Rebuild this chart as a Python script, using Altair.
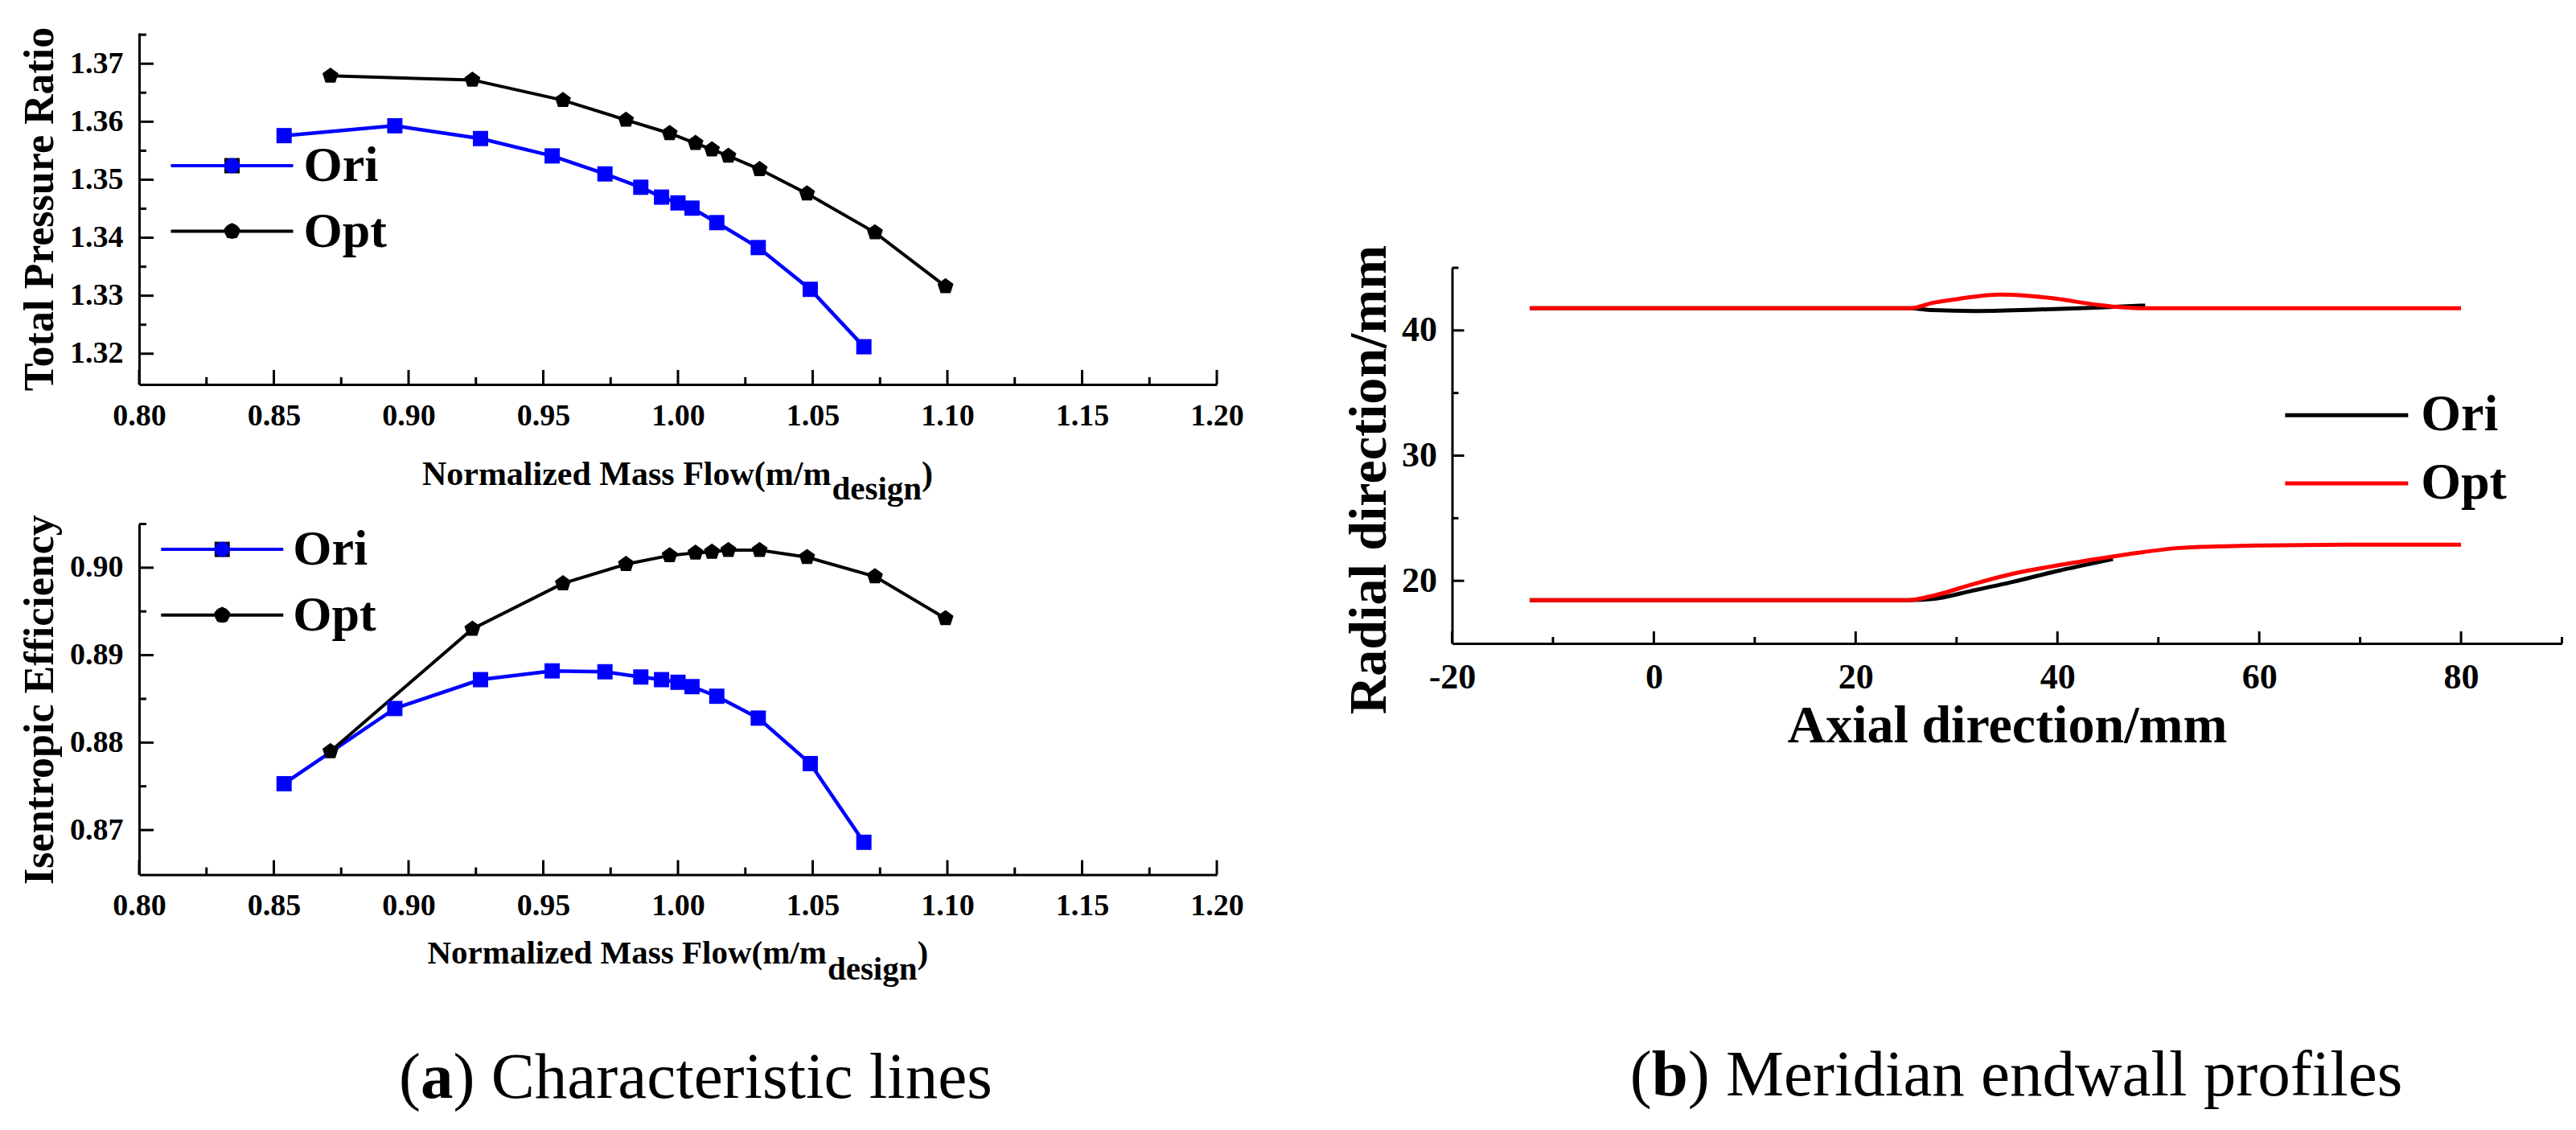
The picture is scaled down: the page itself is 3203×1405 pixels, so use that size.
import altair as alt
import pandas as pd

FONT = "Liberation Serif"
SERIES = ["Ori", "Opt"]
CHAR_COLORS = ["#0000FF", "#000000"]
PROF_COLORS = ["#000000", "#FF0000"]
PENTAGON = "M0,-1.1L1.046,-0.34L0.647,0.89L-0.647,0.89L-1.046,-0.34Z"
LEGEND_LINE = "M-4,0L4,0"

# ---------------- (a) characteristic lines ----------------
ORI_FLOW = [0.8538, 0.8949, 0.9267, 0.9533, 0.9729, 0.9862, 0.9939, 1.0000, 1.0052, 1.0144, 1.0298, 1.0491, 1.0690]
ORI_PR = [1.3576, 1.3593, 1.3571, 1.3541, 1.3510, 1.3487, 1.3470, 1.3460, 1.3451, 1.3426, 1.3383, 1.3311, 1.3212]
ORI_EFF = [0.8753, 0.8839, 0.8872, 0.8882, 0.8881, 0.8875, 0.8872, 0.8869, 0.8864, 0.8853, 0.8828, 0.8776, 0.8686]
OPT_FLOW = [0.8710, 0.9237, 0.9573, 0.9807, 0.9969, 1.0065, 1.0126, 1.0187, 1.0303, 1.0479, 1.0731, 1.0993]
OPT_PR = [1.3679, 1.3672, 1.3637, 1.3603, 1.3580, 1.3563, 1.3552, 1.3541, 1.3518, 1.3476, 1.3409, 1.3316]
OPT_EFF = [0.8790, 0.8930, 0.8982, 0.9004, 0.9014, 0.9017, 0.9018, 0.9020, 0.9020, 0.9012, 0.8990, 0.8942]

# ---------------- (b) meridian endwall profiles ----------------
ORI_SHROUD_X = [-12.3, 25.4, 27.6, 31.7, 37.8, 43.9, 48.7]
ORI_SHROUD_R = [41.77, 41.77, 41.62, 41.55, 41.66, 41.82, 42.00]
OPT_SHROUD_X = [-12.3, 25.4, 27.6, 30.0, 32.0, 34.3, 36.5, 39.8, 43.9, 45.9, 48.0, 80.0]
OPT_SHROUD_R = [41.77, 41.77, 42.20, 42.50, 42.72, 42.86, 42.80, 42.54, 42.05, 41.88, 41.78, 41.77]
ORI_HUB_X = [-12.3, 25.2, 27.6, 31.5, 35.7, 39.8, 45.5]
ORI_HUB_R = [18.46, 18.46, 18.55, 19.20, 19.94, 20.75, 21.74]
OPT_HUB_X = [-12.3, 25.2, 27.6, 31.5, 35.7, 39.8, 43.9, 47.9, 52.0, 56.0, 60.1, 68.3, 80.0]
OPT_HUB_R = [18.46, 18.46, 18.79, 19.70, 20.59, 21.20, 21.74, 22.23, 22.62, 22.75, 22.82, 22.88, 22.88]

# ---------------- ticks ----------------
X_MAJOR = [0.80, 0.85, 0.90, 0.95, 1.00, 1.05, 1.10, 1.15, 1.20]
X_MINOR = [0.825, 0.875, 0.925, 0.975, 1.025, 1.075, 1.125, 1.175]
PR_MAJOR = [1.32, 1.33, 1.34, 1.35, 1.36, 1.37]
PR_MINOR = [1.325, 1.335, 1.345, 1.355, 1.365, 1.375]
EFF_MAJOR = [0.87, 0.88, 0.89, 0.90]
EFF_MINOR = [0.875, 0.885, 0.895, 0.905]
AX_MAJOR = [-20, 0, 20, 40, 60, 80]
AX_MINOR = [-10, 10, 30, 50, 70, 90]
RAD_MAJOR = [20, 30, 40]
RAD_MINOR = [25, 35, 45]

char = pd.concat([
    pd.DataFrame({"series": "Ori", "flow": ORI_FLOW, "pr": ORI_PR, "eff": ORI_EFF}),
    pd.DataFrame({"series": "Opt", "flow": OPT_FLOW, "pr": OPT_PR, "eff": OPT_EFF}),
], ignore_index=True)
char["marker"] = char["series"]

prof = pd.concat([
    pd.DataFrame({"series": "Ori", "part": "shroud", "x": ORI_SHROUD_X, "r": ORI_SHROUD_R}),
    pd.DataFrame({"series": "Ori", "part": "hub", "x": ORI_HUB_X, "r": ORI_HUB_R}),
    pd.DataFrame({"series": "Opt", "part": "shroud", "x": OPT_SHROUD_X, "r": OPT_SHROUD_R}),
    pd.DataFrame({"series": "Opt", "part": "hub", "x": OPT_HUB_X, "r": OPT_HUB_R}),
], ignore_index=True)

W_L, H_TOP, H_BOT = 1340, 437, 436
W_R, H_R = 1380, 467


def text_layer(label, x, y, size, weight="bold", align="left"):
    return alt.Chart(pd.DataFrame({"label": [label]})).mark_text(
        align=align, baseline="alphabetic", font=FONT, fontSize=size,
        fontWeight=weight, color="black"
    ).encode(x=alt.value(x), y=alt.value(y), text="label:N")


def mass_flow_title(center, base, sub_dy, fs_main, fs_sub):
    w_main = 12.109 * fs_main
    w_sub = 2.723 * fs_sub
    w_par = 0.333 * fs_main
    x0 = center - (w_main + w_sub + w_par) / 2
    split = x0 + w_main
    return [
        text_layer("Normalized Mass Flow(m/m", split, base, fs_main, align="right"),
        text_layer("design", split + 1, base + sub_dy, fs_sub),
        text_layer(")", split + 1 + w_sub, base, fs_main),
    ]


def caption(letter, letter_em, rest, rest_em, center, base, fs):
    total = (0.333 + letter_em + rest_em) * fs
    x0 = center - total / 2
    return [
        text_layer("(", x0, base, fs, weight="normal"),
        text_layer(letter, x0 + 0.333 * fs, base, fs, weight="bold"),
        text_layer(rest, x0 + (0.333 + letter_em) * fs, base, fs, weight="normal"),
    ]


def x_ticks(vals, length, X_scale, X_axis, y0, Y_scale, Y_axis):
    return alt.Chart(pd.DataFrame({"t": vals})).mark_tick(
        orient="vertical", size=length, thickness=3, color="black", opacity=1, yOffset=-length / 2
    ).encode(
        x=alt.X("t:Q", scale=X_scale, axis=X_axis),
        y=alt.YDatum(y0, type="quantitative", scale=Y_scale, axis=Y_axis),
    )


def y_ticks(vals, length, Y_scale, Y_axis, x0, X_scale, X_axis):
    return alt.Chart(pd.DataFrame({"t": vals})).mark_tick(
        orient="horizontal", size=length, thickness=3, color="black", opacity=1, xOffset=length / 2
    ).encode(
        y=alt.Y("t:Q", scale=Y_scale, axis=Y_axis),
        x=alt.XDatum(x0, type="quantitative", scale=X_scale, axis=X_axis),
    )


def char_panel(ycol, ydomain, ymajor, yminor, ytitle, height, leg_x, leg_y, row_pad, lab_off, xt, cap=None):
    xscale = alt.Scale(domain=[0.80, 1.20], nice=False, zero=False)
    yscale = alt.Scale(domain=ydomain, nice=False, zero=False)
    xaxis = alt.Axis(values=X_MAJOR, format=".2f", title=None, labelFontSize=38,
                     labelPadding=20, labelFlush=False)
    yaxis = alt.Axis(values=ymajor, format=".2f", title=ytitle, titleFontSize=52,
                     titlePadding=10, labelFontSize=38, labelPadding=20)
    line_legend = alt.Legend(
        orient="none", legendX=leg_x, legendY=leg_y, direction="vertical", title=None,
        padding=0, symbolType=LEGEND_LINE, symbolSize=1444, symbolStrokeWidth=4,
        labelFontSize=62, labelOffset=lab_off, rowPadding=row_pad)
    marker_legend = alt.Legend(
        orient="none", legendX=leg_x, legendY=leg_y, direction="vertical", title=None,
        padding=0, symbolSize=360, symbolStrokeWidth=0, labelFontSize=62, labelOpacity=0,
        labelExpr="''", rowPadding=row_pad)
    X = alt.X("flow:Q", scale=xscale, axis=xaxis)
    Y = alt.Y(f"{ycol}:Q", scale=yscale, axis=yaxis)
    layers = []
    for s, sw in zip(SERIES, [4.5, 4]):
        layers.append(
            alt.Chart(char).transform_filter(alt.datum.series == s).mark_line(strokeWidth=sw).encode(
                x=X, y=Y,
                stroke=alt.Stroke("series:N", scale=alt.Scale(domain=SERIES, range=CHAR_COLORS),
                                  legend=line_legend)))
    layers.append(
        alt.Chart(char).mark_point(filled=True, opacity=1, size=360, strokeWidth=0).encode(
            x=X, y=Y,
            fill=alt.Fill("marker:N", sort=SERIES, scale=alt.Scale(range=CHAR_COLORS), legend=marker_legend),
            shape=alt.Shape("marker:N", sort=SERIES, scale=alt.Scale(range=["square", PENTAGON]),
                            legend=marker_legend)))
    layers.append(x_ticks(X_MAJOR, 18, xscale, xaxis, ydomain[0], yscale, yaxis))
    layers.append(x_ticks(X_MINOR, 9, xscale, xaxis, ydomain[0], yscale, yaxis))
    layers.append(y_ticks(ymajor, 18, yscale, yaxis, 0.80, xscale, xaxis))
    layers.append(y_ticks(yminor, 9, yscale, yaxis, 0.80, xscale, xaxis))
    layers += mass_flow_title(*xt)
    if cap:
        layers += cap
    return alt.layer(*layers).properties(width=W_L, height=height)


top = char_panel("pr", [1.3147, 1.3753], PR_MAJOR, PR_MINOR, "Total Pressure Ratio", H_TOP,
                 84.5, 134, 19.5, 58, (669, 562, 18, 42, 41))
bottom = char_panel("eff", [0.8649, 0.9050], EFF_MAJOR, EFF_MINOR, "Isentropic Efficiency", H_BOT,
                    72.25, 0.6, 19.7, 57, (669.3, 546, 20, 41, 41),
                    cap=caption("a", 0.5, ") Characteristic lines", 8.276, 692, 713.5, 81))

# ---------------- (b) panel ----------------
xscale_r = alt.Scale(domain=[-20, 90], nice=False, zero=False)
yscale_r = alt.Scale(domain=[15, 45], nice=False, zero=False)
xaxis_r = alt.Axis(values=AX_MAJOR, labelExpr="'' + datum.value", title="Axial direction/mm",
                   titleFontSize=66, titlePadding=6, labelFontSize=44, labelPadding=20, labelFlush=False)
yaxis_r = alt.Axis(values=RAD_MAJOR, labelExpr="'' + datum.value", title="Radial direction/mm",
                   titleFontSize=66, titlePadding=6, titleY=263, labelFontSize=44, labelPadding=19)
prof_legend = alt.Legend(
    orient="none", legendX=1080.3, legendY=151.3, direction="vertical", title=None, padding=0,
    symbolType=LEGEND_LINE, symbolSize=1463, symbolStrokeWidth=5, labelFontSize=64,
    labelOffset=60.4, rowPadding=20.7)
XR = alt.X("x:Q", scale=xscale_r, axis=xaxis_r)
YR = alt.Y("r:Q", scale=yscale_r, axis=yaxis_r)
r_layers = []
for s in SERIES:
    r_layers.append(
        alt.Chart(prof).transform_filter(alt.datum.series == s).mark_line(
            strokeWidth=5, interpolate="monotone").encode(
            x=XR, y=YR, detail="part:N",
            stroke=alt.Stroke("series:N", scale=alt.Scale(domain=SERIES, range=PROF_COLORS),
                              legend=prof_legend)))
r_layers.append(x_ticks(AX_MAJOR, 15, xscale_r, xaxis_r, 15, yscale_r, yaxis_r))
r_layers.append(x_ticks(AX_MINOR, 8, xscale_r, xaxis_r, 15, yscale_r, yaxis_r))
r_layers.append(y_ticks(RAD_MAJOR, 15, yscale_r, yaxis_r, -20, xscale_r, xaxis_r))
r_layers.append(y_ticks(RAD_MINOR, 8, yscale_r, yaxis_r, -20, xscale_r, xaxis_r))
r_layers += caption("b", 0.556, ") Meridian endwall profiles", 10.97, 701.5, 1029, 81)
prof_panel = alt.layer(*r_layers).properties(width=W_R, height=H_R)

spacer = alt.Chart(pd.DataFrame({"v": [0]})).mark_point(opacity=0).encode(
    x=alt.X("v:Q", axis=None), y=alt.Y("v:Q", axis=None)
).properties(width=W_R, height=282)

left = alt.vconcat(top, bottom, spacing=173.5, bounds="flush").resolve_scale(
    stroke="independent", fill="independent", shape="independent")
right = alt.vconcat(spacer, prof_panel, spacing=10, bounds="flush").resolve_scale(
    stroke="independent")
chart = alt.hconcat(left, right, spacing=121.5).resolve_scale(
    stroke="independent", fill="independent", shape="independent")

chart = chart.properties(
    padding={"left": 15, "top": 25, "right": 5, "bottom": 5}
).configure(font=FONT).configure_view(stroke=None).configure_axis(
    labelFont=FONT, titleFont=FONT, labelFontWeight="bold", titleFontWeight="bold",
    labelColor="black", titleColor="black", domainColor="black", domainWidth=3,
    ticks=False, tickSize=0, grid=False
).configure_legend(labelFont=FONT, labelFontWeight="bold", labelColor="black")

chart.save("out.html", embed_options={"renderer": "svg", "actions": False})
